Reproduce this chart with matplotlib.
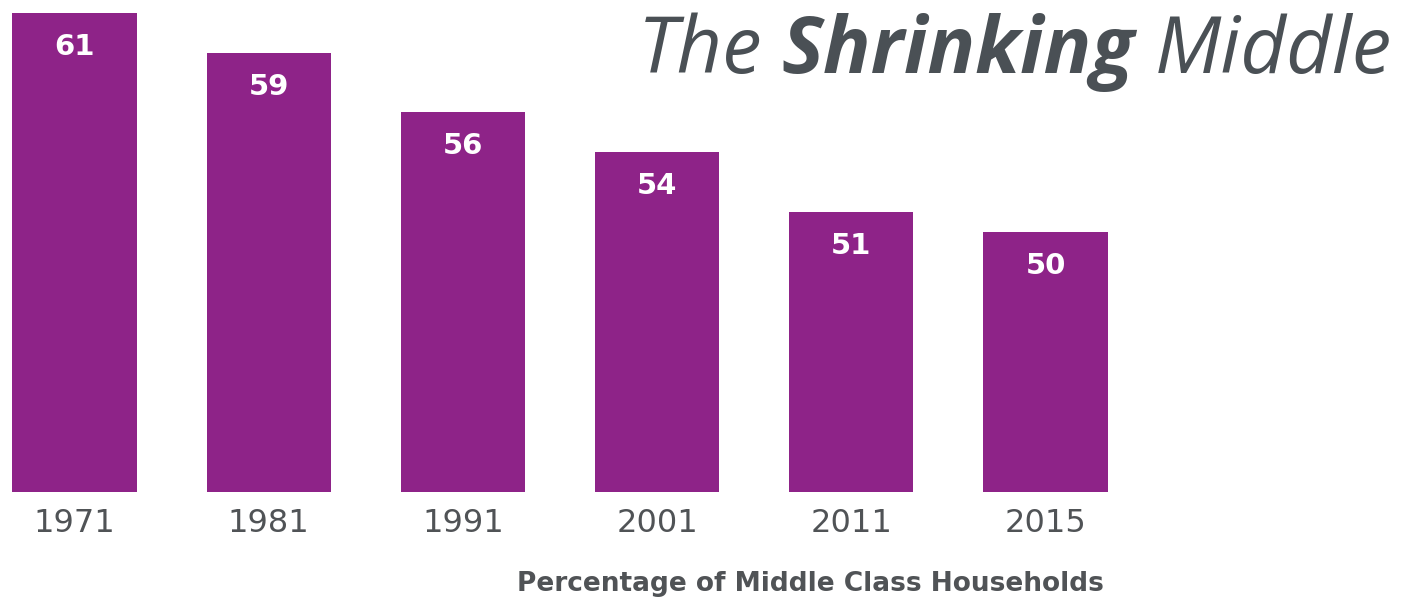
import numpy as np
import matplotlib
matplotlib.use("Agg")
import matplotlib.pyplot as plt

years = ["1971", "1981", "1991", "2001", "2011", "2015"]
shares = [61, 59, 56, 54, 51, 50]

bar_color = "#8e2388"
text_gray = "#505356"
title_gray = "#4a5055"
narrow = ["Liberation Sans Narrow", "DejaVu Sans Condensed", "DejaVu Sans"]

W, H = 1402, 599
fig = plt.figure(figsize=(W / 100, H / 100), dpi=100)
fig.patch.set_facecolor("white")

# axes: bottom at bar baseline, top at figure top
base_frac = (H - 492) / H
ax = fig.add_axes([0, base_frac, 1, 1 - base_frac])
x = np.arange(len(years))
ax.bar(x, shares, width=0.64, color=bar_color)
ax.set_xlim(-74.5 / 194.2, (W - 74.5) / 194.2)
ax.set_ylim(37.0, 61.63)
ax.axis("off")

for xi, v in zip(x, shares):
    ax.annotate(str(v), (xi, v), xytext=(0, -34), textcoords="offset pixels",
                ha="center", va="center", color="white", fontsize=21,
                fontweight="bold", family=["DejaVu Sans"])
    ax.annotate(years[xi], (xi, 37.0), xytext=(0, -32), textcoords="offset pixels",
                ha="center", va="center", color=text_gray, fontsize=23,
                family=narrow, annotation_clip=False)

fig.text(810 / W, 1 - 584 / H, "Percentage of Middle Class Households",
         ha="center", va="center", color=text_gray, fontsize=19,
         fontweight="bold", family=narrow)

# title in three pieces, right-aligned at x=1392
fig.canvas.draw()
r = fig.canvas.get_renderer()
ty = 1 - 73 / H
right = 1392
parts = [("Middle", "normal"), ("Shrinking", "bold"), ("The", "normal")]
for s, wgt in parts:
    t = fig.text(right / W, ty, s, ha="right", va="baseline", fontsize=57,
                 style="italic", fontweight=wgt, color=title_gray,
                 family=["Open Sans", "DejaVu Sans"])
    bb = t.get_window_extent(r)
    right = bb.x0 - 20

fig.savefig("out.png", dpi=100, facecolor="white")
